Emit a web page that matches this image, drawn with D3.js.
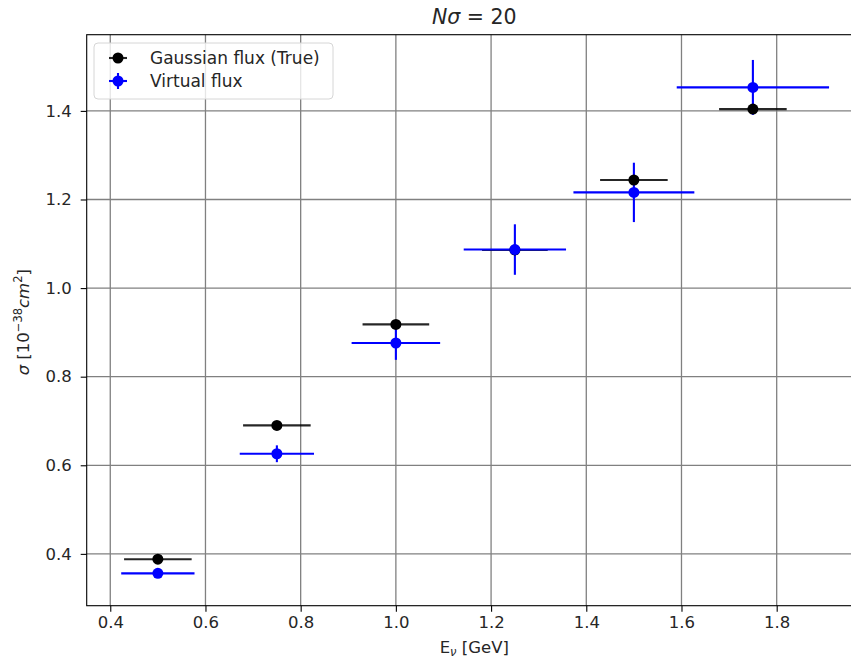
<!DOCTYPE html>
<html>
<head>
<meta charset="utf-8">
<script src="https://cdn.jsdelivr.net/npm/d3@7"></script>
<style>
  html, body { margin: 0; padding: 0; background: #fff; }
  svg { display: block; font-family: "DejaVu Sans", sans-serif; }
</style>
</head>
<body>
<svg id="chart" width="851" height="661"></svg>
<script>
// Neutrino energy bins (GeV)
const energies = [0.5, 0.75, 1.0, 1.25, 1.5, 1.75];

// Cross sections, 10^-38 cm^2
const trueSigma = [0.388, 0.690, 0.918, 1.086, 1.244, 1.404];
const trueXerr  = [0.071, 0.071, 0.070, 0.069, 0.071, 0.071];
const trueYerr  = [0.004, 0.004, 0.004, 0.004, 0.004, 0.004];

const virtSigma = [0.356, 0.626, 0.876, 1.087, 1.216, 1.453];
const virtXerr  = [0.077, 0.078, 0.093, 0.1075, 0.127, 0.160];
const virtYerr  = [0.005, 0.019, 0.038, 0.057, 0.067, 0.062];

const xTicks = [0.4, 0.6, 0.8, 1.0, 1.2, 1.4, 1.6, 1.8];
const yTicks = [0.4, 0.6, 0.8, 1.0, 1.2, 1.4];

const xLimits = [0.3505, 1.979];
const yLimits = [0.283, 1.572];

const series = [
  { name: "Gaussian flux (True)", color: "#000", bar: "rgba(0,0,0,0.85)",
    y: trueSigma, xerr: trueXerr, yerr: trueYerr },
  { name: "Virtual flux", color: "#0000ff", bar: "#0000ff",
    y: virtSigma, xerr: virtXerr, yerr: virtYerr }
];

const svg = d3.select("#chart");
const plot = { left: 86.7, right: 861.9, top: 34.7, bottom: 605.7 };
const FS = 16.5;      // tick / label font size
const TXT = "#262626";

const x = d3.scaleLinear().domain(xLimits).range([plot.left, plot.right]);
const y = d3.scaleLinear().domain(yLimits).range([plot.bottom, plot.top]);

// grid
const grid = svg.append("g");
grid.selectAll("line.gx").data(xTicks).join("line")
  .attr("x1", d => x(d)).attr("x2", d => x(d))
  .attr("y1", plot.top).attr("y2", plot.bottom)
  .attr("stroke", "#808080").attr("stroke-width", 1.3);
grid.selectAll("line.gy").data(yTicks).join("line")
  .attr("y1", d => y(d)).attr("y2", d => y(d))
  .attr("x1", plot.left).attr("x2", plot.right)
  .attr("stroke", "#808080").attr("stroke-width", 1.3);

// axes
const xAxis = d3.axisBottom(x).tickValues(xTicks).tickFormat(d3.format(".1f"))
  .tickSize(6).tickSizeOuter(0).tickPadding(5);
const yAxis = d3.axisLeft(y).tickValues(yTicks).tickFormat(d3.format(".1f"))
  .tickSize(6).tickSizeOuter(0).tickPadding(9);

const gx = svg.append("g").attr("transform", `translate(0,${plot.bottom})`).call(xAxis);
const gy = svg.append("g").attr("transform", `translate(${plot.left},0)`).call(yAxis);
[gx, gy].forEach(g => {
  g.select(".domain").remove();
  g.selectAll(".tick line").attr("stroke", "#000").attr("stroke-width", 1.1);
  g.selectAll(".tick text").attr("font-size", FS).attr("fill", TXT)
    .attr("font-family", "DejaVu Sans, sans-serif");
});

// error bars (all bars below markers)
const bars = svg.append("g");
series.forEach(s => {
  const g = bars.append("g");
  g.selectAll("line.h").data(energies).join("line")
    .attr("x1", (d, i) => x(d - s.xerr[i])).attr("x2", (d, i) => x(d + s.xerr[i]))
    .attr("y1", (d, i) => y(s.y[i])).attr("y2", (d, i) => y(s.y[i]))
    .attr("stroke", s.bar).attr("stroke-width", 2.1);
  g.selectAll("line.v").data(energies).join("line")
    .attr("x1", d => x(d)).attr("x2", d => x(d))
    .attr("y1", (d, i) => y(s.y[i] - s.yerr[i])).attr("y2", (d, i) => y(s.y[i] + s.yerr[i]))
    .attr("stroke", s.bar).attr("stroke-width", 2.1);
});

// markers
const marks = svg.append("g");
series.forEach(s => {
  marks.append("g").selectAll("circle").data(energies).join("circle")
    .attr("cx", d => x(d)).attr("cy", (d, i) => y(s.y[i]))
    .attr("r", 5.5).attr("fill", s.color);
});

// frame
svg.append("rect")
  .attr("x", plot.left).attr("y", plot.top)
  .attr("width", plot.right - plot.left).attr("height", plot.bottom - plot.top)
  .attr("fill", "none").attr("stroke", "#000").attr("stroke-width", 1.1);

// legend
const lg = svg.append("g");
lg.append("rect").attr("x", 94).attr("y", 43).attr("width", 239).attr("height", 56)
  .attr("rx", 4).attr("fill", "rgba(255,255,255,0.8)")
  .attr("stroke", "#d6d6d6").attr("stroke-width", 1);
series.forEach((s, i) => {
  const cy = 58 + i * 23;
  const cx = 118;
  lg.append("line").attr("x1", cx - 9).attr("x2", cx + 9).attr("y1", cy).attr("y2", cy)
    .attr("stroke", s.bar).attr("stroke-width", 2.1);
  if (i === 1) {
    lg.append("line").attr("x1", cx).attr("x2", cx).attr("y1", cy - 8).attr("y2", cy + 8)
      .attr("stroke", s.bar).attr("stroke-width", 2.1);
  }
  lg.append("circle").attr("cx", cx).attr("cy", cy).attr("r", 5.5).attr("fill", s.color);
  lg.append("text").attr("x", 150).attr("y", cy + 6).attr("font-size", 17)
    .attr("fill", TXT).text(s.name);
});

// title
const title = svg.append("text").attr("x", (plot.left + plot.right) / 2).attr("y", 24)
  .attr("text-anchor", "middle").attr("font-size", 20.5).attr("fill", TXT);
title.append("tspan").attr("font-style", "italic").text("Nσ");
title.append("tspan").text(" = 20");

// x label
const xl = svg.append("text").attr("x", (plot.left + plot.right) / 2).attr("y", 653)
  .attr("text-anchor", "middle").attr("font-size", FS).attr("fill", TXT);
xl.append("tspan").text("E");
xl.append("tspan").attr("font-style", "italic").attr("font-size", 11.5).attr("dy", 3).text("ν");
xl.append("tspan").attr("dy", -3).text(" [GeV]");

// y label
const yl = svg.append("text")
  .attr("transform", `translate(29,${(plot.top + plot.bottom) / 2 + 2}) rotate(-90)`)
  .attr("text-anchor", "middle").attr("font-size", FS).attr("fill", TXT);
yl.append("tspan").attr("font-style", "italic").text("σ");
yl.append("tspan").text(" [10");
yl.append("tspan").attr("font-size", 11.5).attr("dy", -7).text("−38");
yl.append("tspan").attr("font-style", "italic").attr("dy", 7).text("cm");
yl.append("tspan").attr("font-size", 11.5).attr("dy", -7).text("2");
yl.append("tspan").attr("dy", 7).text("]");
</script>
</body>
</html>
